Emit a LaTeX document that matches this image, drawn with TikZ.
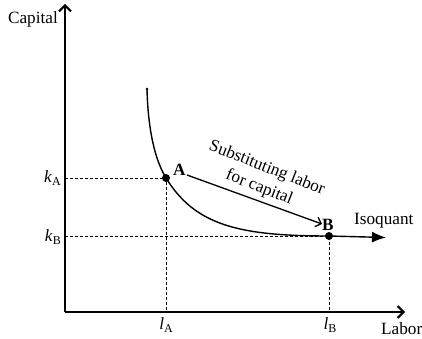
\documentclass[tikz,border=0pt]{standalone}
\usepackage{fontspec}
\setmainfont{Liberation Serif}
\usetikzlibrary{arrows.meta}
\newcommand{\lowsub}[1]{\raisebox{-3.5pt}{\fontsize{12}{12}\selectfont #1}}
\begin{document}
\begin{tikzpicture}[x=1pt,y=-1pt,
  lbl/.style={font=\fontsize{17.2}{20}\selectfont, inner sep=0pt},
  axis/.style={line width=2, -{Straight Barb[length=6,width=12,line width=2]}},
  guide/.style={dashed, dash pattern=on 3 off 2, line width=0.8},
  dot/.style={circle, fill, inner sep=0pt, minimum size=8}]
\useasboundingbox (0,0) rectangle (422,339);
\coordinate (O) at (65,312);
\coordinate (Ytip) at (65,4);
\coordinate (Xtip) at (405,312);
\coordinate (KA) at (65,178);
\coordinate (KB) at (65,236);
\coordinate (LA) at (166,312);
\coordinate (LB) at (329,312);
\coordinate (S) at (147,89);
\coordinate (E) at (386,237.5);
\node[dot] (A) at (166,178) {};
\node[dot] (B) at (329,236) {};
% guides
\draw[guide] (KA) -- (A.center) -- (LA);
\draw[guide] (KB) -- (B.center) -- (LB);
% axes
\draw[axis] (O) -- (Ytip);
\draw[axis] (O) -- (Xtip);
% isoquant
\draw[line width=1.4, -{Latex[length=14,width=11]}]
  (S) .. controls (148,130) and (155,160) .. (A.center)
      .. controls (195,225) and (238,236) .. (B.center) -- (E);
\fill (S) circle (1.4);
% arrow A -> B
\draw[line width=1.3, -{Straight Barb[length=5,width=10]}] ([shift={(21,-3)}]A.center) -- ([shift={(-7,-12)}]B.center);
% labels
\node[lbl, anchor=base east] at (58,24) {Capital};
\node[lbl, anchor=base west] at (381,334) {Labor};
\node[lbl, anchor=base east] at (61,182) {\textit{k}\lowsub{A}};
\node[lbl, anchor=base east] at (61,241) {\textit{k}\lowsub{B}};
\node[lbl, anchor=base] at (166,329) {\textit{l}\lowsub{A}};
\node[lbl, anchor=base] at (330,329) {\textit{l}\lowsub{B}};
\node[lbl, anchor=base west, font=\fontsize{17.2}{20}\selectfont\bfseries] at (173,175) {A};
\node[lbl, anchor=base west, font=\fontsize{17.2}{20}\selectfont\bfseries] at (322,230) {B};
\node[lbl, anchor=base west] at (354,224) {Isoquant};
\node[lbl, rotate=-21.5, align=center, font=\fontsize{17.2}{21}\selectfont] (T) at (263,178) {Substituting labor\\for capital};
\end{tikzpicture}
\end{document}
